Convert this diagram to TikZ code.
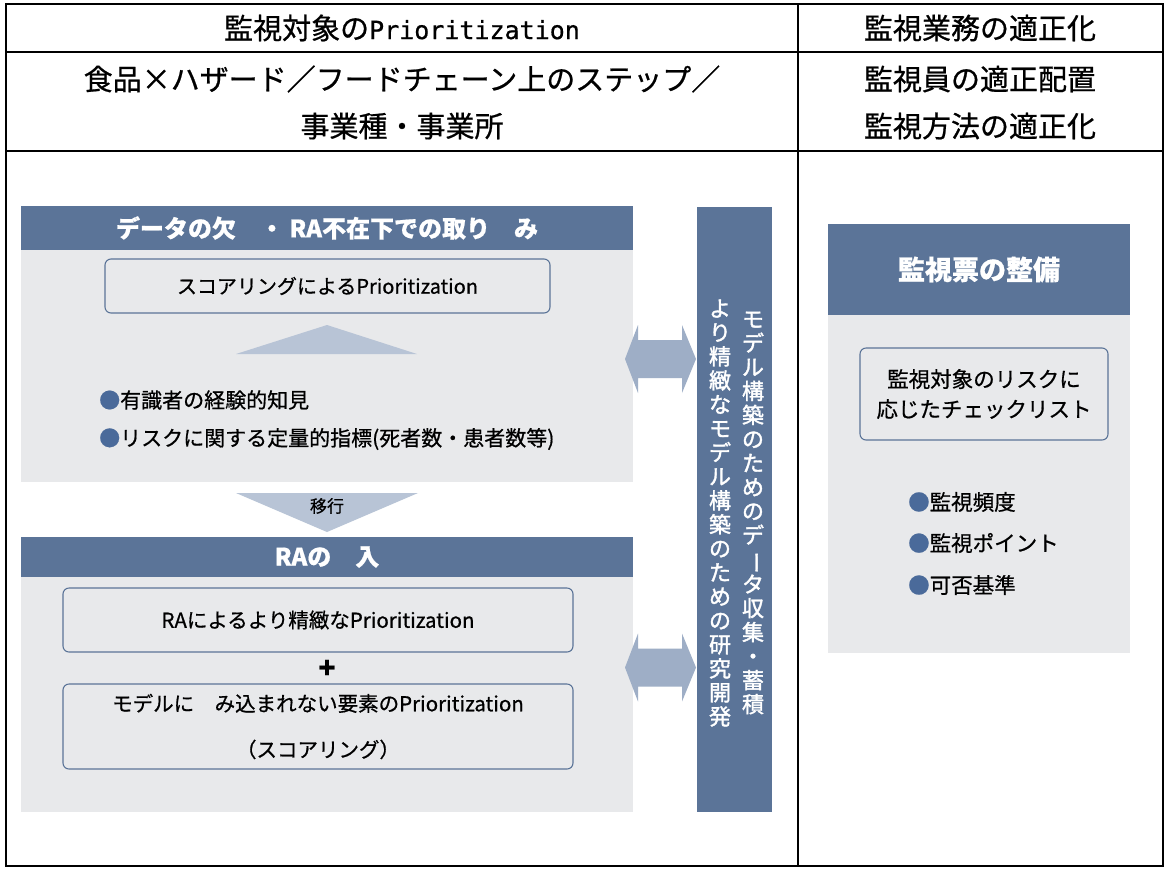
\documentclass[tikz,border=0pt]{standalone}
\usepackage{fontspec}
\setmainfont[RawFeature={embolden=0.7}]{Noto Sans CJK JP}
\newfontfamily\monofont[RawFeature={embolden=0.7}]{DejaVu Sans Mono}
\newfontfamily\vfont[RawFeature={embolden=1.6}]{Noto Sans CJK JP}
\newcommand{\fsz}[2]{\fontsize{#1}{#2}\selectfont}
\newcommand{\vbar}{\rotatebox[origin=c]{-90}{ー}}
\definecolor{band}{HTML}{5B7498}
\definecolor{panel}{HTML}{E8E9EB}
\definecolor{tri}{HTML}{B8C4D6}
\definecolor{arr}{HTML}{9EAEC6}
\definecolor{dot}{HTML}{4A6A9A}
\tikzset{
  tline/.style={line width=1.3pt, draw=black},
  tabtext/.style={font=\fsz{29}{34}, inner sep=0pt},
  bandbox/.style={fill=band, text=white, font=\bfseries\fsz{24}{28}, inner sep=0pt},
  innerbox/.style={draw=band, line width=1.1pt, rounded corners=6pt, fill=panel, inner sep=0pt, align=center},
  bullettext/.style={anchor=west, inner sep=0pt, font=\fsz{21}{25}},
  vtext/.style={text=white, font=\vfont\fsz{22}{24}, align=center, inner sep=0pt},
  blockarrow/.style={fill=arr},
}
\begin{document}
\begin{tikzpicture}[x=1pt,y=-1pt]
\useasboundingbox (0,0) rectangle (1166,868);
\fill[white] (0,0) rectangle (1166,868);
% table
\draw[tline] (6,4) rectangle (1163,866);
\draw[tline] (6,52) -- (1163,52);
\draw[tline] (6,151) -- (1163,151);
\draw[tline] (798,4) -- (798,866);
\node[tabtext] (h1) at (402,28) {監視対象の{\monofont\fsz{25}{30}Prioritization}};
\node[tabtext] (h2) at (980,28) {監視業務の適正化};
\node[tabtext] (r1) at (402,79) {食品×ハザード／フードチェーン上のステップ／};
\node[tabtext] (r2) at (402,126) {事業種・事業所};
\node[tabtext] (r3) at (980,79) {監視員の適正配置};
\node[tabtext] (r4) at (980,126) {監視方法の適正化};
% left upper panel
\fill[panel] (21,250) rectangle (633,482);
\node[bandbox, minimum width=612pt, minimum height=44pt] (b1) at (327,228) {データの欠　・ RA不在下での取り　み};
\node[innerbox, minimum width=445pt, minimum height=54pt, font=\fsz{20}{24}] (s1) at (327.5,286) {スコアリングによるPrioritization};
\fill[tri] (236,354) -- (327,325) -- (417,354) -- cycle;
\node[bullettext] (p1) at (99,400) {{\color{dot}●}有識者の経験的知見};
\node[bullettext] (p2) at (99,439) {{\color{dot}●}リスクに関する定量的指標(死者数・患者数等)};
% transition
\fill[tri] (236,493) -- (418,493) -- (327,532) -- cycle;
\node[inner sep=0pt, font=\fsz{17}{20}] (ik) at (327,506) {移行};
% left lower panel
\fill[panel] (21,577) rectangle (633,812);
\node[bandbox, minimum width=612pt, minimum height=40pt] (b2) at (327,557) {RAの　入};
\node[innerbox, minimum width=510pt, minimum height=64pt, font=\fsz{20.5}{24}] (s2) at (318,620) {RAによるより精緻なPrioritization};
\node[inner sep=0pt, font=\bfseries\fsz{28}{30}] (plus) at (327,669) {+};
\node[innerbox, minimum width=510pt, minimum height=85pt, font=\fsz{20.5}{46}] (s3) at (318,726.5) {モデルに　み込まれない要素のPrioritization\\（スコアリング）};
% vertical bar
\node[fill=band, minimum width=75pt, minimum height=605pt, inner sep=0pt, anchor=north west] (bar) at (697,207) {};
\node[vtext] (v1) at (753,513) {モ\\デ\\ル\\構\\築\\の\\た\\め\\の\\デ\\\vbar\\タ\\収\\集\\・\\蓄\\積};
\node[vtext] (v2) at (720,513) {よ\\り\\精\\緻\\な\\モ\\デ\\ル\\構\\築\\の\\た\\め\\の\\研\\究\\開\\発};
% double arrows
\coordinate (a1) at (660.5,359);
\coordinate (a2) at (660.5,667.5);
\foreach \c in {a1,a2}{
  \fill[blockarrow] ([xshift=-35.5pt]\c) -- ([xshift=-22.5pt,yshift=34pt]\c) -- ([xshift=-22.5pt,yshift=19pt]\c) -- ([xshift=21.5pt,yshift=19pt]\c) -- ([xshift=21.5pt,yshift=34pt]\c) -- ([xshift=35.5pt]\c) -- ([xshift=21.5pt,yshift=-34pt]\c) -- ([xshift=21.5pt,yshift=-19pt]\c) -- ([xshift=-22.5pt,yshift=-19pt]\c) -- ([xshift=-22.5pt,yshift=-34pt]\c) -- cycle;
}
% right panel
\fill[panel] (828,315) rectangle (1130,653);
\node[bandbox, font=\bfseries\fsz{27}{30}, minimum width=302pt, minimum height=91pt] (b3) at (979,269.5) {監視票の整備};
\node[innerbox, minimum width=248pt, minimum height=92pt, font=\fsz{21.5}{30}] (s4) at (984,394) {監視対象のリスクに\\応じたチェックリスト};
\node[bullettext, font=\fsz{21.5}{25}] (q1) at (908,502) {{\color{dot}●}監視頻度};
\node[bullettext, font=\fsz{21.5}{25}] (q2) at (908,543) {{\color{dot}●}監視ポイント};
\node[bullettext, font=\fsz{21.5}{25}] (q3) at (908,585) {{\color{dot}●}可否基準};
\end{tikzpicture}
\end{document}
